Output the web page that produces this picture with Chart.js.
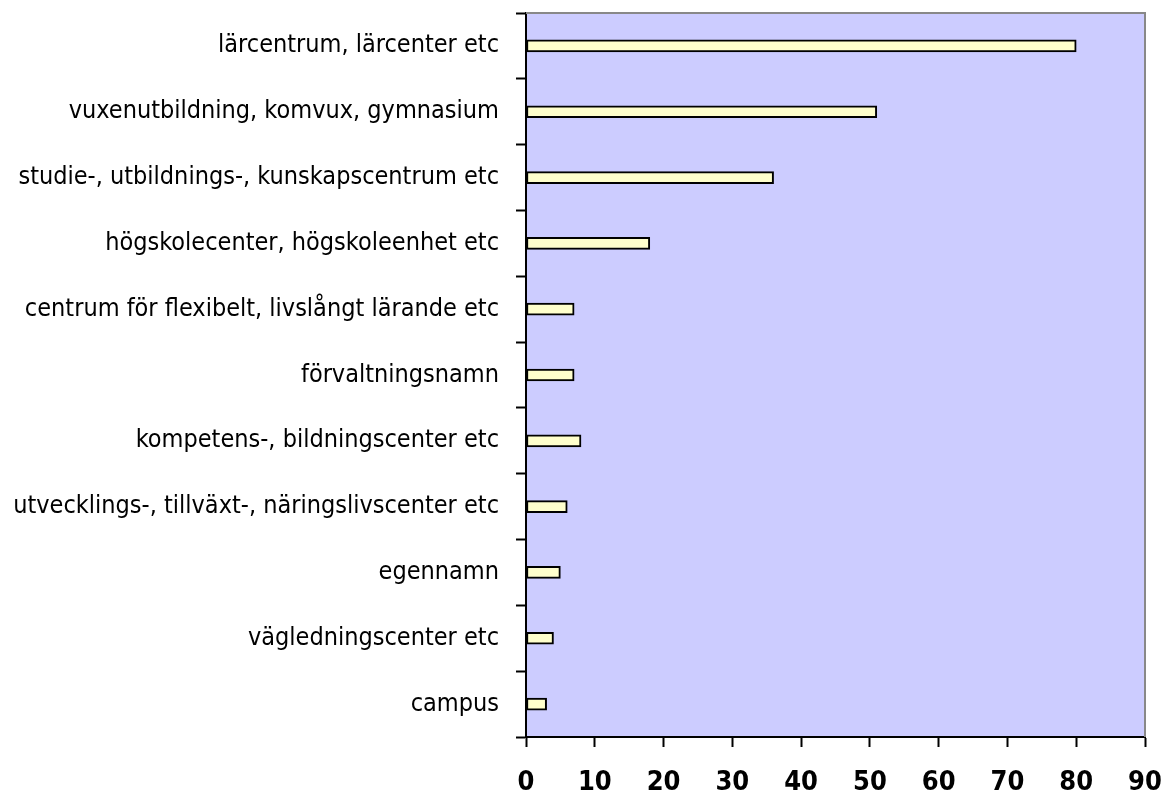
<!DOCTYPE html>
<html><head><meta charset="utf-8">
<script src="https://cdn.jsdelivr.net/npm/chart.js@4/dist/chart.umd.min.js"></script>
<style>html,body{margin:0;padding:0;background:#fff}#wrap{width:1163px;height:796px}</style>
</head><body><div id="wrap"><canvas id="c" width="1163" height="796"></canvas></div>
<script>
const categories = [
  "lärcentrum, lärcenter etc",
  "vuxenutbildning, komvux, gymnasium",
  "studie-, utbildnings-, kunskapscentrum etc",
  "högskolecenter, högskoleenhet etc",
  "centrum för flexibelt, livslångt lärande etc",
  "förvaltningsnamn",
  "kompetens-, bildningscenter etc",
  "utvecklings-, tillväxt-, näringslivscenter etc",
  "egennamn",
  "vägledningscenter etc",
  "campus"
];
const values = [80, 51, 36, 18, 7, 7, 8, 6, 5, 4, 3];
const xTicks = [0, 10, 20, 30, 40, 50, 60, 70, 80, 90];

const FAM = "'Liberation Sans Narrow', 'Arial Narrow', 'DejaVu Sans Condensed', 'Liberation Sans', sans-serif";

const bgPlugin = {
  id: 'bg',
  beforeDraw(chart) {
    const {ctx, chartArea: a} = chart;
    ctx.save();
    ctx.fillStyle = '#CCCCFF';
    ctx.fillRect(a.left, a.top, a.right - a.left, a.bottom - a.top);
    ctx.restore();
  },
  afterDatasetsDraw(chart) {
    const {ctx, chartArea: a} = chart;
    ctx.save();
    ctx.strokeStyle = '#888888';
    ctx.lineWidth = 2;
    ctx.beginPath();
    ctx.moveTo(a.left, a.top);
    ctx.lineTo(a.right, a.top);
    ctx.lineTo(a.right, a.bottom);
    ctx.stroke();
    ctx.restore();
  }
};

new Chart(document.getElementById('c'), {
  type: 'bar',
  data: {
    labels: categories,
    datasets: [{
      data: values,
      backgroundColor: '#FFFFCC',
      borderColor: '#000000',
      borderWidth: 2,
      borderSkipped: false,
      barThickness: 12
    }]
  },
  options: {
    indexAxis: 'y',
    responsive: false,
    animation: false,
    devicePixelRatio: 1,
    layout: { padding: { top: 13, right: 18, left: 0, bottom: 0 } },
    plugins: { legend: { display: false }, tooltip: { enabled: false } },
    scales: {
      x: {
        min: 0, max: 90,
        afterBuildTicks(scale) { scale.ticks = xTicks.map(v => ({ value: v })); },
        afterFit(scale) { scale.height = 59; scale.paddingLeft = 0; scale.paddingRight = 0; },
        grid: { drawOnChartArea: false, drawTicks: true, tickLength: 10, tickColor: '#000', tickWidth: 2 },
        border: { display: true, color: '#000', width: 2 },
        ticks: { color: '#000', padding: 20, font: { family: FAM, size: 27, weight: 'bold' }, maxRotation: 0 }
      },
      y: {
        afterFit(scale) { scale.width = 526; scale.paddingTop = 0; scale.paddingBottom = 0; },
        grid: { drawOnChartArea: false, drawTicks: true, tickLength: 10, tickColor: '#000', tickWidth: 2, offset: true },
        border: { display: true, color: '#000', width: 2 },
        ticks: { color: '#000', padding: 17, font: { family: FAM, size: 25 } }
      }
    }
  },
  plugins: [bgPlugin]
});
</script>
</body></html>
